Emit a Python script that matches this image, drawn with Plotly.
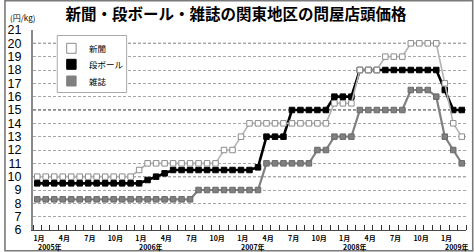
import plotly.graph_objects as go

# ---- data (monthly, Jan 2005 - Mar 2009) ----
months = [f"{y}-{m:02d}" for y in range(2005, 2010) for m in range(1, 13)][:51]

series_names = ["新聞", "段ボール", "雑誌"]

shinbun = [10, 10, 10, 10, 10, 10, 10, 10, 10, 10, 10, 10,
           10.5, 11, 11, 11, 11, 11, 11, 11, 11, 11, 12, 12,
           13, 14, 14, 14, 14, 14, 14, 14, 14, 14, 14, 15.5,
           15.5, 15.5, 18, 18, 18, 19, 19, 19, 20, 20, 20, 20,
           17, 14, 13]

danball = [9.5, 9.5, 9.5, 9.5, 9.5, 9.5, 9.5, 9.5, 9.5, 9.5, 9.5, 9.5,
           9.5, 9.75, 10, 10.25, 10.5, 10.5, 10.5, 10.5, 10.5, 10.5, 10.5, 10.5,
           10.5, 10.5, 10.7, 13, 13, 13, 15, 15, 15, 15, 15, 16,
           16, 16, 18, 18, 18, 18, 18, 18, 18, 18, 18, 18,
           16.5, 15, 15]

zasshi = [8.3, 8.3, 8.3, 8.3, 8.3, 8.3, 8.3, 8.3, 8.3, 8.3, 8.3, 8.3,
          8.3, 8.3, 8.3, 8.3, 8.3, 8.3, 8.3, 9, 9, 9, 9, 9,
          9, 9, 9, 11, 11, 11, 11, 11, 11, 12, 12, 13,
          13, 13, 15, 15, 15, 15, 15, 15, 16.5, 16.5, 16.5, 16,
          13, 12, 11]

month_tick_idx = list(range(0, 51, 3))
month_tick_text = ["1月", "4月", "7月", "10月"] * 4 + ["1月"]
year_idx = [0, 12, 24, 36, 48]
year_text = ["2005年", "2006年", "2007年", "2008年", "2009年"]
y_ticks = list(range(6, 22))

x = list(range(len(months)))

CJK = "Noto Sans CJK JP"

fig = go.Figure()

# draw order: 雑誌, 段ボール, 新聞 (新聞 on top)
fig.add_trace(go.Scatter(
    x=x, y=zasshi, name=series_names[2], mode="lines+markers",
    line=dict(color="#808080", width=2.2),
    marker=dict(symbol="square", size=5.5, color="#808080",
                line=dict(color="#6a6a6a", width=1)),
    showlegend=False))
fig.add_trace(go.Scatter(
    x=x, y=danball, name=series_names[1], mode="lines+markers",
    line=dict(color="#000000", width=2.6),
    marker=dict(symbol="square", size=5.5, color="#000000",
                line=dict(color="#000000", width=1)),
    showlegend=False))
fig.add_trace(go.Scatter(
    x=x, y=shinbun, name=series_names[0], mode="lines+markers",
    line=dict(color="#b4b4b4", width=1.6),
    marker=dict(symbol="square", size=5.5, color="#ffffff",
                line=dict(color="#8c8c8c", width=1)),
    showlegend=False))

# ---- geometry helpers (pixel -> paper) ----
L, R, T, B = 29, 8, 30, 22
W, H = 474, 252
PW, PH = W - L - R, H - T - B


def px(xp):
    return (xp - L) / PW


def py(yp):
    return (H - B - yp) / PH


shapes = []
# darker dashed lines at 10, 15, 20
for v in (10, 15, 20):
    shapes.append(dict(type="line", xref="paper", yref="y", x0=0, x1=1, y0=v, y1=v,
                       line=dict(color="#1a1a1a", width=1, dash="3px,2px"), layer="between"))

# legend box
shapes.append(dict(type="rect", xref="paper", yref="paper",
                   x0=px(53.5), x1=px(123.5), y0=py(92.5), y1=py(35.5),
                   line=dict(color="#a8a8a8", width=1), fillcolor="#ffffff", layer="above"))
swatch = [("#ffffff", "#8c8c8c", 48.3), ("#000000", "#000000", 64.3), ("#808080", "#808080", 81)]
for fill, edge, cy in swatch:
    shapes.append(dict(type="rect", xref="paper", yref="paper",
                       x0=px(63), x1=px(72.5), y0=py(cy + 5), y1=py(cy - 5),
                       line=dict(color=edge, width=1), fillcolor=fill, layer="above"))

# outer frame
shapes.append(dict(type="rect", xref="paper", yref="paper",
                   x0=px(0.7), x1=px(472.8), y0=py(250.8), y1=py(0.7),
                   line=dict(color="#7a7a7a", width=1.6), layer="above"))

annotations = []
for name, (_, _, cy) in zip(series_names, swatch):
    annotations.append(dict(text=name, xref="paper", yref="paper", x=px(84), y=py(cy),
                            xanchor="left", yanchor="middle", showarrow=False,
                            font=dict(family=CJK, size=8.5, color="#000000")))
for i, t in zip(year_idx, year_text):
    annotations.append(dict(text=t, xref="x", yref="paper", x=i - 0.2, y=py(246.5),
                            xanchor="left", yanchor="middle", showarrow=False,
                            font=dict(family=CJK, size=7, color="#000000", weight="bold")))
annotations.append(dict(text="(円/kg)", xref="paper", yref="paper", x=px(4), y=py(17),
                        xanchor="left", yanchor="middle", showarrow=False,
                        font=dict(family=CJK, size=8, color="#000000")))

fig.update_layout(
    width=W, height=H,
    margin=dict(l=L, r=R, t=T, b=B, pad=0),
    paper_bgcolor="#ffffff", plot_bgcolor="#ffffff",
    showlegend=False,
    title=dict(text="<b>新聞・段ボール・雑誌の関東地区の問屋店頭価格</b>",
               x=236 / W, xref="container", xanchor="center",
               y=1 - 15 / H, yref="container", yanchor="middle",
               font=dict(family=CJK, size=15.5, color="#000000")),
    xaxis=dict(range=[-0.5, len(months) - 0.5], showgrid=False, zeroline=False,
               tickmode="array", tickvals=[i + 0.2 for i in month_tick_idx],
               ticktext=month_tick_text, ticks="", ticklabelstandoff=2,
               tickfont=dict(family=CJK, size=7, color="#000000", weight="bold"),
               showline=True, linecolor="#4a4a4a", linewidth=1,
               minor=dict(tickmode="linear", tick0=0.5, dtick=1, ticks="inside",
                          ticklen=5, tickcolor="#333333", tickwidth=1, showgrid=False)),
    yaxis=dict(range=[6, 21], tickmode="array", tickvals=y_ticks,
               ticktext=[str(v) for v in y_ticks], ticks="",
               showgrid=True, gridcolor="#a6a6a6", gridwidth=1, griddash="3px,2px",
               zeroline=False, showline=True, linecolor="#8a8a8a", linewidth=2,
               ticklabelstandoff=7,
               tickfont=dict(family="Liberation Sans", size=12.5, color="#000000")),
    shapes=shapes, annotations=annotations,
)

fig.write_html("out.html")
